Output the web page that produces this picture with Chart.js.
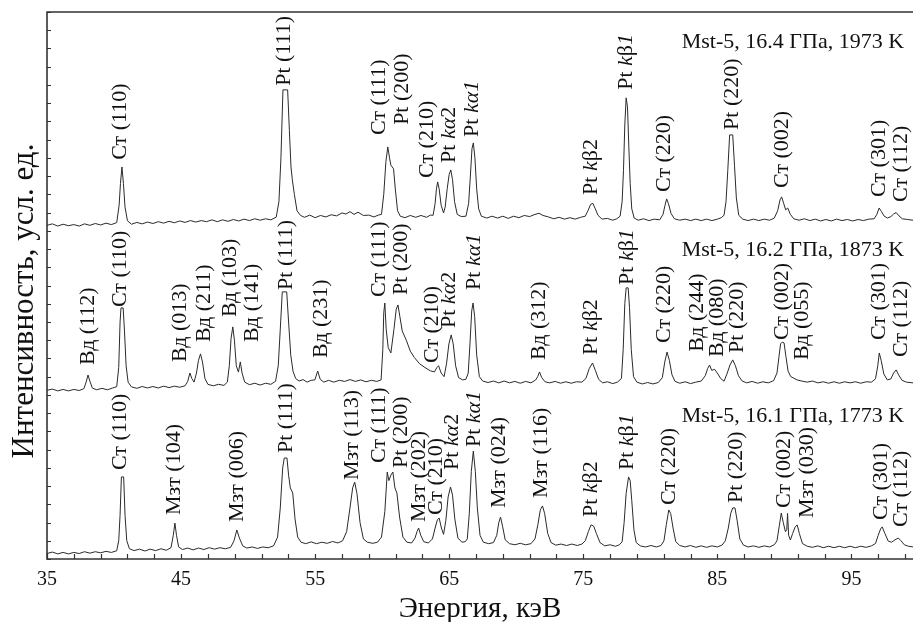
<!DOCTYPE html>
<html>
<head>
<meta charset="utf-8">
<script src="https://cdn.jsdelivr.net/npm/chart.js@4.4.0/dist/chart.umd.min.js"></script>
<style>
  html, body { margin: 0; padding: 0; background: #fff; }
  #wrap { width: 914px; height: 622px; }
</style>
</head>
<body>
<div id="wrap"><canvas id="xrdChart" width="914" height="622"></canvas></div>
<script>
// spectra: [energy keV, intensity arb. units]
const spectrumTop = [
  [35.0,18.30],[35.4,18.38],[35.8,18.26],[36.2,18.36],[36.6,18.28],[37.0,18.34],[37.4,18.26],[37.8,18.38],
  [38.2,18.30],[38.6,18.40],[39.0,18.32],[39.4,18.42],[39.8,18.34],[40.2,18.45],[40.38,19.4],[40.48,20.6],
  [40.59,21.5],[40.70,20.6],[40.82,19.3],[41.0,18.55],[41.3,18.36],[41.7,18.46],[42.1,18.38],[42.5,18.48],
  [42.9,18.40],[43.3,18.50],[43.7,18.42],[44.1,18.52],[44.5,18.44],[44.9,18.54],[45.3,18.46],[45.7,18.56],
  [46.1,18.48],[46.5,18.56],[46.9,18.50],[47.3,18.60],[47.7,18.50],[48.1,18.60],[48.5,18.52],[48.9,18.62],
  [49.3,18.54],[49.7,18.64],[50.1,18.56],[50.5,18.66],[50.9,18.58],[51.3,18.66],[51.7,18.60],[52.1,18.75],
  [52.3,19.6],[52.45,22.0],[52.6,25.73],[52.95,25.73],[53.08,23.5],[53.2,21.5],[53.3,20.8],[53.45,20.0],
  [53.65,19.1],[53.9,18.85],[54.2,18.74],[54.6,18.86],[55.0,18.72],[55.4,18.84],[55.8,18.76],[56.2,18.88],
  [56.6,18.82],[57.0,18.98],[57.3,18.92],[57.6,19.05],[57.9,18.90],[58.2,19.02],[58.6,18.84],[59.0,18.86],
  [59.4,18.76],[59.7,18.86],[59.95,18.9],[60.12,20.0],[60.28,21.8],[60.42,22.6],[60.55,22.0],[60.65,21.6],
  [60.85,21.4],[60.98,20.3],[61.15,19.1],[61.35,18.8],[61.7,18.72],[62.1,18.84],[62.5,18.74],[62.9,18.84],
  [63.3,18.74],[63.6,18.86],[63.8,18.85],[63.95,19.5],[64.05,20.3],[64.14,20.68],[64.25,20.3],[64.4,19.4],
  [64.58,18.98],[64.7,19.3],[64.85,20.3],[65.0,21.1],[65.12,21.34],[65.25,20.8],[65.4,19.6],[65.6,18.9],
  [65.9,18.78],[66.25,18.8],[66.45,19.5],[66.58,21.0],[66.7,22.5],[66.8,22.82],[66.92,22.0],[67.05,20.3],
  [67.2,19.2],[67.4,18.8],[67.8,18.70],[68.2,18.80],[68.6,18.70],[69.0,18.80],[69.4,18.68],[69.8,18.80],
  [70.2,18.72],[70.6,18.84],[71.0,18.78],[71.4,18.90],[71.7,18.96],[72.0,18.84],[72.4,18.76],[72.8,18.66],
  [73.2,18.74],[73.6,18.64],[74.0,18.72],[74.4,18.64],[74.8,18.74],[75.15,18.8],[75.35,19.1],[75.55,19.45],
  [75.72,19.5],[75.9,19.2],[76.1,18.85],[76.4,18.64],[76.8,18.68],[77.2,18.58],[77.5,18.66],[77.75,18.8],
  [77.9,19.6],[78.0,21.3],[78.1,23.8],[78.2,25.29],[78.3,24.8],[78.4,22.6],[78.5,20.6],[78.62,19.2],
  [78.8,18.7],[79.1,18.58],[79.5,18.66],[79.9,18.56],[80.3,18.64],[80.7,18.60],[80.95,18.9],[81.1,19.4],
  [81.22,19.75],[81.35,19.5],[81.55,18.95],[81.8,18.66],[82.2,18.58],[82.6,18.64],[83.0,18.56],[83.4,18.64],
  [83.8,18.56],[84.2,18.64],[84.6,18.56],[85.0,18.64],[85.3,18.72],[85.5,18.85],[85.65,19.6],[85.78,21.3],
  [85.92,23.26],[86.15,23.26],[86.28,21.6],[86.42,19.8],[86.6,18.85],[86.9,18.64],[87.3,18.56],[87.7,18.64],
  [88.1,18.56],[88.5,18.64],[88.9,18.58],[89.25,18.7],[89.5,19.1],[89.68,19.7],[89.8,19.86],[89.95,19.5],
  [90.1,19.15],[90.25,19.25],[90.45,18.9],[90.7,18.66],[91.1,18.58],[91.5,18.66],[91.9,18.56],[92.3,18.64],
  [92.7,18.54],[93.1,18.62],[93.5,18.54],[93.9,18.64],[94.3,18.56],[94.7,18.62],[95.1,18.54],[95.5,18.62],
  [95.9,18.56],[96.3,18.64],[96.7,18.66],[96.9,18.9],[97.07,19.25],[97.25,19.05],[97.45,18.8],[97.7,18.70],
  [97.95,18.78],[98.15,18.92],[98.34,19.0],[98.55,18.82],[98.8,18.66],[99.2,18.62],[99.6,18.58]
];

const spectrumMid = [
  [35.0,9.25],[35.4,9.32],[35.8,9.22],[36.2,9.30],[36.6,9.22],[37.0,9.30],[37.4,9.24],[37.75,9.34],
  [37.92,9.7],[38.06,10.09],[38.2,9.75],[38.38,9.38],[38.7,9.28],[39.1,9.36],[39.5,9.28],[39.9,9.38],
  [40.2,9.45],[40.35,10.5],[40.45,13.0],[40.52,13.77],[40.68,13.77],[40.78,12.5],[40.9,10.6],[41.05,9.7],
  [41.3,9.44],[41.7,9.36],[42.1,9.46],[42.5,9.38],[42.9,9.46],[43.3,9.38],[43.7,9.48],[44.1,9.40],
  [44.5,9.48],[44.9,9.42],[45.3,9.50],[45.5,9.75],[45.66,10.2],[45.8,9.9],[45.97,9.7],[46.15,10.2],
  [46.3,10.9],[46.45,11.25],[46.6,10.8],[46.78,9.9],[47.0,9.58],[47.4,9.50],[47.8,9.58],[48.2,9.52],
  [48.45,9.7],[48.6,10.6],[48.73,12.1],[48.86,12.73],[48.98,12.0],[49.12,10.6],[49.28,10.25],[49.42,10.81],
  [49.55,10.2],[49.75,9.7],[50.1,9.56],[50.5,9.64],[50.9,9.54],[51.3,9.64],[51.7,9.58],[52.05,9.75],
  [52.25,10.6],[52.4,12.6],[52.55,14.65],[52.88,14.65],[53.02,13.0],[53.18,11.2],[53.35,10.3],[53.55,9.9],
  [53.8,9.76],[54.1,9.84],[54.4,9.70],[54.7,9.80],[54.98,9.82],[55.19,10.31],[55.38,9.85],[55.65,9.70],
  [56.0,9.80],[56.4,9.70],[56.8,9.80],[57.2,9.74],[57.6,9.84],[58.0,9.74],[58.4,9.82],[58.8,9.72],
  [59.2,9.80],[59.6,9.74],[59.92,9.82],[60.05,11.5],[60.12,13.5],[60.2,14.04],[60.3,12.6],[60.45,11.6],
  [60.65,11.3],[60.88,12.6],[61.05,13.7],[61.18,13.93],[61.32,13.3],[61.5,12.5],[61.8,12.0],[62.1,11.4],
  [62.4,11.05],[62.8,10.7],[63.2,10.5],[63.6,10.32],[63.9,10.26],[64.08,10.5],[64.21,10.6],[64.4,10.2],
  [64.62,10.0],[64.8,10.7],[64.98,11.8],[65.15,12.29],[65.3,11.8],[65.48,10.6],[65.7,9.95],[66.0,9.82],
  [66.25,9.86],[66.42,10.2],[66.55,11.8],[66.68,13.6],[66.78,14.04],[66.9,13.3],[67.05,11.2],[67.25,10.0],
  [67.5,9.76],[67.9,9.68],[68.3,9.76],[68.7,9.66],[69.1,9.76],[69.5,9.66],[69.9,9.74],[70.3,9.64],
  [70.7,9.74],[71.1,9.66],[71.45,9.82],[71.6,10.0],[71.74,10.26],[71.9,9.95],[72.15,9.72],[72.5,9.66],
  [72.9,9.74],[73.3,9.64],[73.7,9.72],[74.1,9.64],[74.5,9.72],[74.9,9.70],[75.2,9.9],[75.45,10.45],
  [75.69,10.75],[75.9,10.35],[76.15,9.85],[76.45,9.66],[76.8,9.72],[77.2,9.62],[77.55,9.70],[77.85,9.9],
  [77.98,11.5],[78.1,14.0],[78.2,14.87],[78.35,14.87],[78.45,13.8],[78.58,11.5],[78.75,10.0],[79.0,9.70],
  [79.4,9.60],[79.8,9.68],[80.2,9.60],[80.6,9.68],[80.9,9.95],[81.08,10.8],[81.25,11.35],[81.42,10.9],
  [81.62,10.1],[81.85,9.74],[82.2,9.64],[82.6,9.72],[83.0,9.62],[83.4,9.70],[83.8,9.76],[84.1,10.05],
  [84.28,10.45],[84.42,10.64],[84.58,10.35],[84.8,10.4],[85.0,10.2],[85.25,9.9],[85.5,9.75],[85.72,10.15],
  [85.95,10.65],[86.15,10.92],[86.35,10.6],[86.58,10.05],[86.85,9.76],[87.2,9.66],[87.6,9.74],[88.0,9.64],
  [88.4,9.72],[88.8,9.66],[89.2,9.78],[89.45,10.2],[89.6,11.1],[89.72,11.8],[89.85,11.9],[89.98,11.85],
  [90.12,11.1],[90.28,10.3],[90.48,10.0],[90.7,9.92],[90.95,9.82],[91.3,9.76],[91.7,9.70],[92.1,9.76],
  [92.5,9.66],[92.9,9.72],[93.3,9.64],[93.7,9.72],[94.1,9.64],[94.5,9.72],[94.9,9.66],[95.3,9.72],
  [95.7,9.64],[96.1,9.72],[96.5,9.70],[96.8,9.88],[96.97,10.6],[97.08,11.3],[97.22,10.9],[97.42,10.15],
  [97.68,9.82],[97.95,9.88],[98.15,10.2],[98.34,10.37],[98.52,10.1],[98.78,9.80],[99.1,9.70],[99.6,9.66]
];

const spectrumBottom = [
  [35.0,0.30],[35.4,0.38],[35.8,0.28],[36.2,0.36],[36.6,0.28],[37.0,0.36],[37.4,0.30],[37.8,0.40],
  [38.2,0.32],[38.6,0.40],[39.0,0.34],[39.4,0.42],[39.8,0.36],[40.2,0.45],[40.35,1.0],[40.45,2.4],
  [40.55,4.5],[40.72,4.5],[40.82,2.4],[40.95,1.0],[41.15,0.56],[41.5,0.46],[41.9,0.54],[42.3,0.44],
  [42.7,0.54],[43.1,0.46],[43.5,0.56],[43.9,0.48],[44.25,0.62],[44.42,1.3],[44.54,1.97],[44.66,1.3],
  [44.82,0.66],[45.1,0.52],[45.5,0.60],[45.9,0.50],[46.3,0.60],[46.7,0.52],[47.1,0.62],[47.5,0.54],
  [47.9,0.62],[48.3,0.56],[48.7,0.64],[48.95,1.0],[49.16,1.59],[49.35,1.15],[49.6,0.72],[49.9,0.60],
  [50.3,0.66],[50.7,0.58],[51.1,0.66],[51.5,0.62],[51.9,0.72],[52.2,1.2],[52.4,2.8],[52.58,5.0],
  [52.7,5.54],[52.9,5.54],[53.02,4.6],[53.15,3.9],[53.33,3.62],[53.5,2.2],[53.7,1.2],[53.95,0.92],
  [54.3,0.84],[54.7,0.94],[55.1,0.84],[55.5,0.92],[55.9,0.86],[56.3,0.96],[56.7,0.88],[57.05,1.0],
  [57.35,1.5],[57.6,2.8],[57.8,3.9],[57.95,4.22],[58.12,3.6],[58.35,2.0],[58.6,1.1],[58.9,0.92],
  [59.3,0.86],[59.65,0.92],[59.95,1.2],[60.2,2.6],[60.38,4.77],[60.5,4.3],[60.65,4.6],[60.8,4.77],
  [60.95,3.9],[61.1,3.62],[61.3,2.3],[61.55,1.2],[61.85,0.92],[62.2,0.88],[62.45,1.15],[62.6,1.5],
  [62.72,1.7],[62.88,1.3],[63.1,0.95],[63.45,0.88],[63.75,1.1],[63.95,1.7],[64.12,2.15],[64.25,2.25],
  [64.42,1.7],[64.58,1.35],[64.75,2.1],[64.92,3.4],[65.1,3.95],[65.25,3.5],[65.42,2.2],[65.65,1.15],
  [65.95,0.92],[66.2,0.95],[66.35,1.1],[66.5,2.5],[66.65,4.8],[66.8,5.92],[66.95,4.8],[67.1,2.8],
  [67.3,1.3],[67.55,0.92],[67.95,0.84],[68.3,0.90],[68.55,1.3],[68.7,2.0],[68.83,2.3],[68.98,1.8],
  [69.18,1.05],[69.5,0.84],[69.9,0.78],[70.3,0.86],[70.7,0.78],[71.1,0.84],[71.4,1.1],[71.62,1.9],
  [71.8,2.7],[71.96,2.91],[72.12,2.5],[72.35,1.4],[72.6,0.9],[72.95,0.76],[73.35,0.82],[73.75,0.74],
  [74.15,0.82],[74.55,0.74],[74.9,0.82],[75.15,1.0],[75.38,1.5],[75.58,1.87],[75.78,1.8],[75.98,1.4],
  [76.25,0.9],[76.6,0.72],[77.0,0.78],[77.4,0.70],[77.7,0.78],[77.9,0.95],[78.05,2.0],[78.2,3.6],
  [78.38,4.5],[78.5,4.3],[78.62,3.2],[78.78,1.6],[78.95,0.9],[79.25,0.72],[79.65,0.66],[80.05,0.74],
  [80.45,0.66],[80.8,0.74],[81.02,1.0],[81.2,1.9],[81.38,2.69],[81.52,2.5],[81.7,1.7],[81.9,0.95],
  [82.2,0.74],[82.6,0.66],[83.0,0.74],[83.4,0.64],[83.8,0.72],[84.2,0.64],[84.6,0.72],[85.0,0.66],
  [85.35,0.76],[85.6,1.0],[85.82,1.7],[86.0,2.5],[86.15,2.8],[86.32,2.8],[86.48,2.1],[86.68,1.1],
  [86.95,0.76],[87.3,0.66],[87.7,0.72],[88.1,0.64],[88.5,0.72],[88.9,0.66],[89.25,0.78],[89.45,1.0],
  [89.62,1.8],[89.77,2.52],[89.92,2.0],[90.08,1.5],[90.18,1.6],[90.24,2.5],[90.32,1.3],[90.45,1.04],
  [90.62,1.4],[90.8,1.75],[90.96,1.87],[91.12,1.4],[91.35,0.85],[91.7,0.70],[92.1,0.64],[92.5,0.72],
  [92.9,0.62],[93.3,0.70],[93.7,0.62],[94.1,0.70],[94.5,0.62],[94.9,0.70],[95.3,0.62],[95.7,0.70],
  [96.1,0.64],[96.5,0.72],[96.8,0.85],[97.0,1.3],[97.18,1.65],[97.3,1.76],[97.5,1.4],[97.75,0.98],
  [98.0,0.92],[98.25,1.05],[98.5,1.15],[98.7,1.0],[98.95,0.78],[99.25,0.70],[99.6,0.66]
];

// peak labels: [text, energy keV, intensity where the text starts]
const labelsTop = [
  ['Ст (110)',40.44,21.89],['Pt (111)',52.73,25.95],['Ст (111)',59.81,23.26],['Pt (200)',61.53,23.81],
  ['Ст (210)',63.39,20.9],['Pt kα2',65.03,21.72],['Pt kα1',66.74,23.15],['Pt kβ2',75.61,19.97],
  ['Pt kβ1',78.22,25.73],['Ст (220)',81.05,20.13],['Pt (220)',86.12,23.53],['Ст (002)',89.84,20.35],
  ['Ст (301)',97.07,19.86],['Ст (112)',98.71,19.58]
];
const labelsMid = [
  ['Вд (112)',38.06,10.64],['Ст (110)',40.44,13.82],['Вд (013)',44.91,10.81],['Вд (211)',46.7,11.9],
  ['Вд (103)',48.64,13.27],['Вд (141)',50.28,11.9],['Pt (111)',52.88,14.76],['Вд (231)',55.49,11.03],
  ['Ст (111)',59.81,14.37],['Pt (200)',61.45,14.48],['Ст (210)',63.76,10.75],['Pt kα2',65.03,12.67],
  ['Pt kα1',66.89,14.76],['Вд (312)',71.74,10.92],['Pt kβ2',75.61,11.19],['Pt kβ1',78.29,15.03],
  ['Ст (220)',81.05,11.85],['Вд (244)',83.51,11.36],['Вд (080)',85.0,11.08],['Pt (220)',86.49,11.3],
  ['Ст (002)',89.84,12.01],['Вд (055)',91.33,10.92],['Ст (301)',97.07,12.01],['Ст (112)',98.71,11.08]
];
const labelsBottom = [
  ['Ст (110)',40.44,4.88],['Мзт (104)',44.46,2.41],['Мзт (006)',49.16,2.03],['Pt (111)',52.88,5.81],
  ['Мзт (113)',57.8,4.33],['Ст (111)',59.81,5.27],['Pt (200)',61.45,4.99],['Мзт (202)',62.79,2.03],
  ['Ст (210)',64.06,2.41],['Pt kα2',65.25,4.88],['Pt kα1',66.89,6.14],['Мзт (024)',68.76,2.8],
  ['Мзт (116)',71.89,3.35],['Pt kβ2',75.61,2.3],['Pt kβ1',78.29,4.88],['Ст (220)',81.42,2.96],
  ['Pt (220)',86.42,3.07],['Ст (002)',89.99,2.8],['Мзт (030)',91.71,2.25],['Ст (301)',97.22,2.14],
  ['Ст (112)',98.71,1.76]
];

const seriesNames = ['Mst-5, 16.4 ГПа, 1973 K', 'Mst-5, 16.2 ГПа, 1873 K', 'Mst-5, 16.1 ГПа, 1773 K'];
const seriesNameLevels = [28.36, 16.95, 7.84];

const xTickValues = [35,37,39,41,43,45,47,49,51,53,55,57,59,61,63,65,67,69,71,73,75,77,79,81,83,85,87,89,91,93,95,97,99];
const xTickLabels = [35,45,55,65,75,85,95];
const yTickValues = [0,1,2,3,4,5,6,7,8,9,10,11,12,13,14,15,16,17,18,19,20,21,22,23,24,25,26,27,28,29,30];
const yTitle = 'Интенсивность, усл. ед.';

const SERIF = '"Liberation Serif", "Times New Roman", serif';
const INK = '#111';

// split "Pt kα1" into upright / italic pieces like the original typesetting
function labelPieces(text) {
  if (text.indexOf(' k') < 0) return [[text, false]];
  const tail = text.slice(text.indexOf('k') + 1);
  const greek = tail[0], digit = tail.slice(1);
  return [['Pt ', false], ['k', true], [greek, greek === 'α'], [digit, digit === '1']];
}

function drawRotated(ctx, text, px, py, size) {
  ctx.save();
  ctx.translate(px, py);
  ctx.rotate(-Math.PI / 2);
  ctx.textAlign = 'left';
  ctx.textBaseline = 'middle';
  let off = 0;
  labelPieces(text).forEach(([s, it]) => {
    ctx.font = (it ? 'italic ' : '') + size + 'px ' + SERIF;
    ctx.fillText(s, off, 0);
    off += ctx.measureText(s).width;
  });
  ctx.restore();
}

const overlayPlugin = {
  id: 'overlay',
  afterDatasetsDraw(chart) {
    const {ctx, chartArea: a, scales: {x, y}} = chart;
    ctx.save();
    ctx.strokeStyle = '#333';
    ctx.lineWidth = 1.2;
    ctx.beginPath();
    xTickValues.forEach(v => {
      const px = Math.round(x.getPixelForValue(v)) + 0.5;
      ctx.moveTo(px, a.bottom);
      ctx.lineTo(px, a.bottom - 5);
    });
    yTickValues.forEach(v => {
      const py = Math.round(y.getPixelForValue(v)) + 0.5;
      ctx.moveTo(a.left, py);
      ctx.lineTo(a.left + 4, py);
    });
    ctx.stroke();

    ctx.lineWidth = 1.6;
    ctx.beginPath();
    ctx.moveTo(a.right, a.top);
    ctx.lineTo(a.left, a.top);
    ctx.lineTo(a.left, a.bottom);
    ctx.lineTo(a.right, a.bottom);
    ctx.stroke();

    ctx.fillStyle = INK;
    [labelsTop, labelsMid, labelsBottom].forEach(list => {
      list.forEach(([t, e, v]) => drawRotated(ctx, t, x.getPixelForValue(e), y.getPixelForValue(v), 22));
    });

    ctx.font = '22px ' + SERIF;
    ctx.textAlign = 'right';
    ctx.textBaseline = 'middle';
    seriesNames.forEach((s, i) => {
      ctx.fillText(s, x.getPixelForValue(98.93), y.getPixelForValue(seriesNameLevels[i]));
    });

    // y axis title, sits a little below the middle of the axis in the original
    ctx.save();
    ctx.translate(25, 301);
    ctx.rotate(-Math.PI / 2);
    ctx.font = '31px ' + SERIF;
    ctx.textAlign = 'center';
    ctx.textBaseline = 'middle';
    ctx.fillText(yTitle, 0, 0);
    ctx.restore();
    ctx.restore();
  }
};

const toPoints = arr => arr.map(p => ({x: p[0], y: p[1]}));
const lineStyle = {borderColor: '#2a2a2a', borderWidth: 1, pointRadius: 0, tension: 0, fill: false};

new Chart(document.getElementById('xrdChart').getContext('2d'), {
  type: 'line',
  data: {
    datasets: [
      Object.assign({label: seriesNames[0], data: toPoints(spectrumTop)}, lineStyle),
      Object.assign({label: seriesNames[1], data: toPoints(spectrumMid)}, lineStyle),
      Object.assign({label: seriesNames[2], data: toPoints(spectrumBottom)}, lineStyle)
    ]
  },
  options: {
    responsive: false,
    animation: false,
    devicePixelRatio: 1,
    layout: {padding: {top: 12, right: 0, left: 0, bottom: 0}},
    plugins: {legend: {display: false}, tooltip: {enabled: false}},
    scales: {
      x: {
        type: 'linear',
        min: 35,
        max: 99.6,
        grid: {display: false, drawTicks: false},
        border: {display: false},
        afterBuildTicks: scale => { scale.ticks = xTickValues.map(v => ({value: v})); },
        afterFit: scale => { scale.height = 63; },
        ticks: {
          autoSkip: false,
          maxRotation: 0,
          padding: 9,
          color: INK,
          font: {family: SERIF, size: 20},
          callback: v => xTickLabels.includes(v) ? String(v) : ''
        },
        title: {display: true, text: 'Энергия, кэВ', color: INK, font: {family: SERIF, size: 29, lineHeight: 0.9}, padding: {top: 0, bottom: 0}}
      },
      y: {
        min: 0,
        max: 30,
        grid: {display: false, drawTicks: false},
        border: {display: false},
        ticks: {display: false},
        afterFit: scale => { scale.width = 47; },
        title: {display: false}
      }
    }
  },
  plugins: [overlayPlugin]
});
</script>
</body>
</html>
